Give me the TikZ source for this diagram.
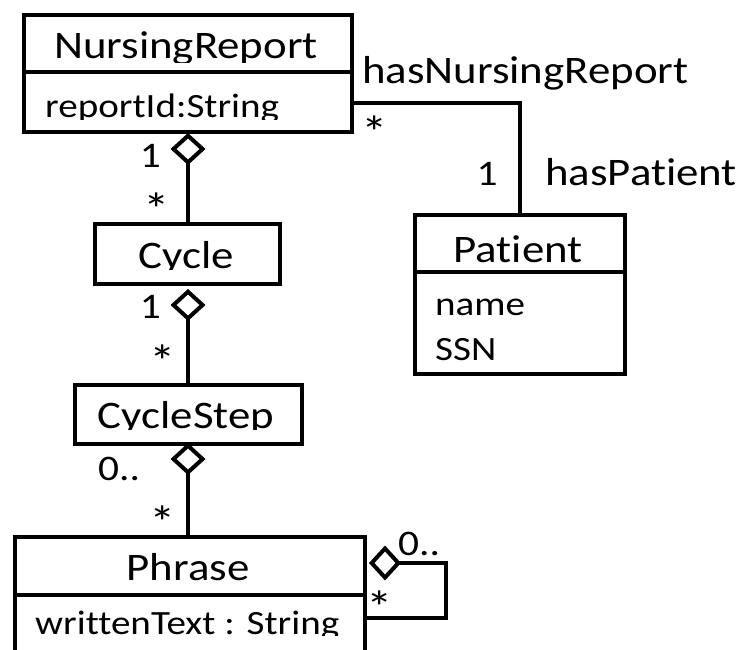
\documentclass[tikz,border=0pt]{standalone}
\usepackage{fontspec}
\setmainfont{Carlito}[FakeStretch=1.15, Ligatures=NoCommon]
\usetikzlibrary{arrows.meta,calc}
\begin{document}
\begin{tikzpicture}[x=1pt,y=-1pt,
  umlbox/.style={draw, line width=4pt, inner sep=0pt, anchor=north west},
  txt/.style={inner sep=0pt, font=\fontsize{39}{44}\selectfont},
  attr/.style={inner sep=0pt, font=\fontsize{34}{40}\selectfont},
  mult/.style={inner sep=0pt, font=\fontsize{36}{40}\selectfont},
  star/.style={inner sep=0pt, font=\fontsize{46}{50}\selectfont},
  conn/.style={line width=4pt},
  agg/.style={conn, {Diamond[open, length=32pt, width=35pt, line width=4pt]}-}
]
\useasboundingbox (0,0) rectangle (736,649);
\clip (0,0) rectangle (736,649);

% class boxes
\node[umlbox, minimum width=328pt, minimum height=117pt] (nr) at (22,13) {};
\node[umlbox, minimum width=210pt, minimum height=159pt] (pat) at (413,213) {};
\node[umlbox, minimum width=185pt, minimum height=60pt] (cyc) at (93,222) {};
\node[umlbox, minimum width=227pt, minimum height=59pt] (cstep) at (73,383) {};
\node[umlbox, minimum width=350pt, minimum height=170pt] (phr) at (13,535) {};

% compartment dividers
\draw[conn] (nr.west |- 0,72) -- (nr.east |- 0,72);
\draw[conn] (pat.west |- 0,272) -- (pat.east |- 0,272);
\draw[conn] (phr.west |- 0,595) -- (phr.east |- 0,595);

% class names and attributes (clipped to their compartments)
\begin{scope}
  \clip (22,13) rectangle (350,62);
  \node[txt, anchor=base] (nrname) at (186,58) {NursingReport};
\end{scope}
\begin{scope}
  \clip (22,72) rectangle (350,119);
  \node[attr, anchor=base west] (nrattr) at (45,117) {reportId:String};
\end{scope}
\node[txt, anchor=base] (patname) at (518,262) {Patient};
\node[attr, anchor=base west] (patattr1) at (435,315) {name};
\node[attr, anchor=base west] (patattr2) at (435,360) {SSN};
\begin{scope}
  \clip (93,222) rectangle (278,269);
  \node[txt, anchor=base] (cycname) at (186,268) {Cycle};
\end{scope}
\begin{scope}
  \clip (73,383) rectangle (300,429);
  \node[txt, anchor=base] (cstepname) at (186,428) {CycleStep};
\end{scope}
\node[txt, anchor=base] (phrname) at (188,580) {Phrase};
\begin{scope}
  \clip (13,595) rectangle (363,635);
  \node[attr, anchor=base west] (phrattr) at (35,634) {writtenText : String};
\end{scope}

% association NursingReport -- Patient
\coordinate (nrp) at ($(nr.north east)+(0,90)$);
\draw[conn] (nrp) -| (pat.north);
\node[txt, anchor=base west] (l1) at (362,83) {hasNursingReport};
\node[star, anchor=base] (m1) at (375,148) {*};
\node[mult, anchor=base] (m2) at (487,185) {1};
\node[txt, anchor=base west] (l2) at (545,185) {hasPatient};

% aggregations
\coordinate (d1) at (188,133);
\draw[agg] (d1) -- (d1 |- cyc.north);
\node[mult, anchor=base east] (m3) at (161,167) {1};
\node[star, anchor=base] (m4) at (157,225) {*};

\coordinate (d2) at (188,289);
\draw[agg] (d2) -- (d2 |- cstep.north);
\node[mult, anchor=base east] (m5) at (161,318) {1};
\node[star, anchor=base] (m6) at (163,377) {*};

\coordinate (d3) at (188,443);
\draw[agg] (d3) -- (d3 |- phr.north);
\node[mult, anchor=base west] (m7) at (98,480) {0..};
\node[star, anchor=base] (m8) at (163,538) {*};

% self aggregation on Phrase
\coordinate (d4) at ($(phr.north east)+(2,28)$);
\coordinate (r4) at ($(phr.north east)+(0,83)$);
\draw[agg] (d4) -- ++(77,0) |- (r4);
\node[mult, anchor=base west] (m9) at (398,555) {0..};
\node[star, anchor=base] (m10) at (380,623) {*};
\end{tikzpicture}
\end{document}
